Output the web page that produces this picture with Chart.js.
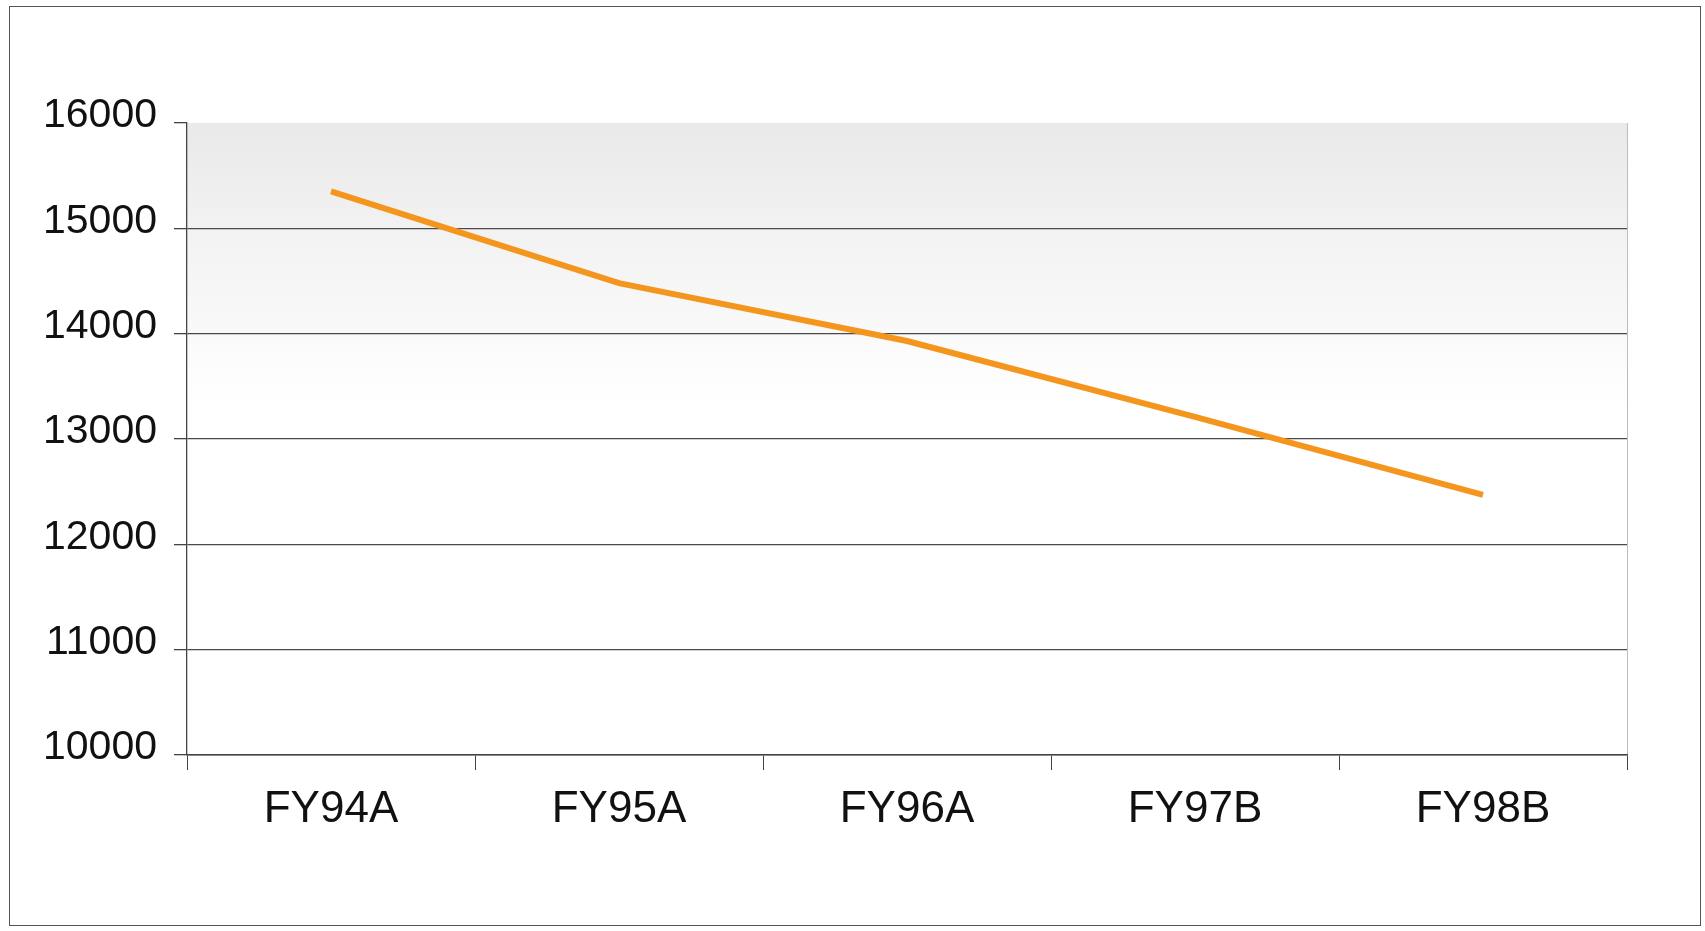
<!DOCTYPE html>
<html>
<head>
<meta charset="utf-8">
<script src="https://cdn.jsdelivr.net/npm/chart.js"></script>
<style>
  body { margin: 0; background: #fff; }
  #frame {
    position: absolute;
    left: 9px; top: 6px; width: 1692px; height: 920px;
    border: 1.5px solid #555;
    box-sizing: border-box;
  }
  #myChart { position: absolute; left: 0; top: 0; }
</style>
</head>
<body>
<div id="frame"></div>
<canvas id="myChart" width="1705" height="931"></canvas>
<script>
const years = ["FY94A", "FY95A", "FY96A", "FY97B", "FY98B"];
const valores = [15350, 14480, 13930, 13210, 12470];
const yTicks = [10000, 11000, 12000, 13000, 14000, 15000, 16000];

const canvas = document.querySelector("#myChart");

// fondo gris degradado del area de trazado + borde derecho
const fondoPlugin = {
  id: "fondo",
  beforeDraw: (chart) => {
    const { ctx, chartArea } = chart;
    const g = ctx.createLinearGradient(0, chartArea.top, 0, chartArea.bottom);
    g.addColorStop(0, "#e9e9e9");
    g.addColorStop(0.15, "#f1f1f1");
    g.addColorStop(0.45, "#ffffff");
    g.addColorStop(1, "#ffffff");
    ctx.save();
    ctx.fillStyle = g;
    ctx.fillRect(chartArea.left, chartArea.top, chartArea.right - chartArea.left, chartArea.bottom - chartArea.top);
    ctx.strokeStyle = "#bdbdbd";
    ctx.lineWidth = 1;
    ctx.beginPath();
    ctx.moveTo(chartArea.right + 0.5, chartArea.top);
    ctx.lineTo(chartArea.right + 0.5, chartArea.bottom);
    ctx.stroke();
    ctx.restore();
  },
};

const grafico = new Chart(canvas, {
  type: "line",
  data: {
    labels: years,
    datasets: [
      {
        data: valores,
        borderColor: "#f4961e",
        borderWidth: 6,
        pointRadius: 0,
        tension: 0,
        fill: false,
      },
    ],
  },
  options: {
    responsive: false,
    animation: false,
    layout: { padding: { left: 0, right: 78, top: 123, bottom: 0 } },
    plugins: {
      legend: { display: false },
      tooltip: { enabled: false },
    },
    scales: {
      x: {
        offset: true,
        afterFit: (scale) => { scale.height = 176; },
        grid: {
          offset: true,
          drawOnChartArea: false,
          drawTicks: true,
          tickLength: 15,
          tickColor: "#444",
        },
        border: { display: true, color: "#444", width: 1.5 },
        ticks: {
          color: "#111",
          padding: 13,
          font: { family: "Liberation Sans, Arial", size: 44 },
        },
      },
      y: {
        min: 10000,
        max: 16000,
        afterFit: (scale) => { scale.width = 187; },
        afterBuildTicks: (scale) => {
          scale.ticks = yTicks.map((v) => ({ value: v }));
        },
        grid: {
          color: (ctx) => (ctx.tick && ctx.tick.value === 16000 ? "rgba(0,0,0,0)" : "#4a4a4a"),
          lineWidth: 1.3,
          tickLength: 13,
          tickColor: "#444",
        },
        border: { display: true, color: "#444", width: 1.3 },
        ticks: {
          color: "#111",
          padding: 17,
          labelOffset: -7,
          callback: (value) => String(value),
          font: { family: "Liberation Sans, Arial", size: 41 },
        },
      },
    },
  },
  plugins: [fondoPlugin],
});
</script>
</body>
</html>
